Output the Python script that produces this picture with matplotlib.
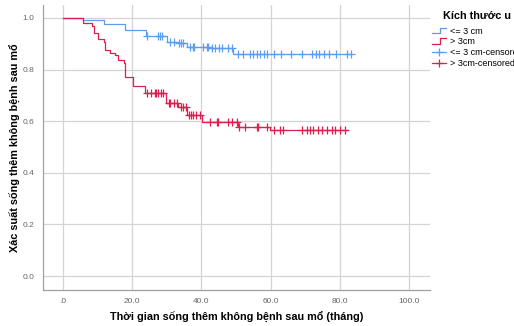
import numpy as np
import matplotlib
matplotlib.use("Agg")
import matplotlib.pyplot as plt
from matplotlib.lines import Line2D
from matplotlib.legend_handler import HandlerBase

plt.rcParams['font.family'] = ['Liberation Sans', 'DejaVu Sans']

# Kaplan-Meier: kich thuoc u <= 3 cm
blue_time = [0, 5.9, 11.8, 18.0, 24.0, 30.0, 33.2, 35.7, 42.5, 49.0, 83.4]
blue_surv = [1.0, 0.992, 0.975, 0.953, 0.930, 0.907, 0.901, 0.889, 0.883, 0.862, 0.862]
blue_cens = [24.2, 27.5, 28.0, 28.5, 31.0, 32.0, 33.5, 34.0, 34.8, 36.7, 37.5, 38.0,
             40.5, 41.5, 42.0, 43.0, 44.0, 45.0, 46.0, 47.7, 48.8, 50.5, 52.0, 54.0,
             55.0, 56.0, 57.0, 58.0, 59.0, 61.0, 63.0, 66.0, 69.0, 72.0, 73.0, 74.0,
             75.5, 77.0, 79.0, 82.0, 83.4]

# Kaplan-Meier: kich thuoc u > 3 cm
red_time = [0, 5.9, 8.3, 9.0, 10.2, 11.7, 12.0, 13.7, 15.1, 16.0, 17.5, 18.0, 20.1,
            23.7, 29.8, 33.2, 35.8, 40.1, 50.6, 59.8, 82.0]
red_surv = [1.0, 0.98, 0.967, 0.94, 0.92, 0.907, 0.876, 0.866, 0.857, 0.837, 0.825,
            0.773, 0.736, 0.71, 0.672, 0.656, 0.622, 0.596, 0.579, 0.566, 0.566]
red_cens = [24.2, 25.5, 26.5, 27.0, 27.5, 28.2, 29.0, 30.5, 31.0, 32.0, 33.0, 34.0,
            34.8, 35.5, 36.5, 37.0, 37.5, 38.5, 39.6, 42.5, 44.5, 44.8, 47.7, 48.8,
            50.3, 51.0, 52.6, 56.0, 56.4, 59.0, 61.0, 62.7, 63.6, 69.0, 70.5, 71.4,
            72.3, 73.7, 75.0, 76.3, 77.7, 78.6, 80.0, 81.5]

x_ticks = [0, 20, 40, 60, 80, 100]
x_labels = [".0", "20.0", "40.0", "60.0", "80.0", "100.0"]
y_ticks = [0.0, 0.2, 0.4, 0.6, 0.8, 1.0]
y_labels = ["0.0", "0.2", "0.4", "0.6", "0.8", "1.0"]

BLUE = "#5b9ef0"
RED = "#dc1f4e"


def surv_at(times, surv, t):
    idx = np.searchsorted(times, t, side="right") - 1
    return np.asarray(surv)[idx]


class StepHandler(HandlerBase):
    def create_artists(self, legend, orig_handle, xdescent, ydescent, width, height, fontsize, trans):
        xs = np.array([0, width * 0.55, width * 0.55, width]) - xdescent
        ys = np.array([0.05, 0.05, 0.95, 0.95]) * height - ydescent
        ln = Line2D(xs, ys, color=orig_handle.get_color(), lw=0.9)
        ln.set_transform(trans)
        return [ln]


fig = plt.figure(figsize=(5.14, 3.26), dpi=100)
ax = fig.add_axes([43 / 514, 1 - 290 / 326, 387 / 514, 285 / 326])

ax.step(blue_time, blue_surv, where="post", color=BLUE, lw=0.9)
ax.step(red_time, red_surv, where="post", color=RED, lw=0.9)
ax.plot(blue_cens, surv_at(blue_time, blue_surv, blue_cens), ls="none", marker="+",
        ms=5.5, mew=0.9, color=BLUE)
ax.plot(red_cens, surv_at(red_time, red_surv, red_cens), ls="none", marker="+",
        ms=5.5, mew=0.9, color=RED)

ax.set_xlim(-5.8, 106.1)
ax.set_ylim(-0.054, 1.05)
ax.set_xticks(x_ticks, x_labels)
ax.set_yticks(y_ticks, y_labels)
ax.tick_params(length=0, labelsize=6, labelcolor="#666666", pad=6)
ax.grid(True, color="#d4d4d4", lw=0.9)
ax.set_axisbelow(True)
for s in ["top", "right"]:
    ax.spines[s].set_visible(False)
for s in ["left", "bottom"]:
    ax.spines[s].set_color("#a0a0a0")
    ax.spines[s].set_linewidth(0.9)

ax.set_xlabel("Thời gian sống thêm không bệnh sau mổ (tháng)", fontsize=7.8,
              fontweight="bold", labelpad=5)
ax.set_ylabel("Xác suất sống thêm không bệnh sau mổ", fontsize=7.8,
              fontweight="bold", labelpad=1.5)

handles = [
    Line2D([], [], color=BLUE),
    Line2D([], [], color=RED),
    Line2D([], [], color=BLUE, lw=0.9, marker="+", ms=6, mew=0.9),
    Line2D([], [], color=RED, lw=0.9, marker="+", ms=6, mew=0.9),
]
labels = ["<= 3 cm", "> 3cm", "<= 3 cm-censored", "> 3cm-censored"]
leg = fig.legend(handles, labels, loc="upper left", bbox_to_anchor=(432 / 514, 1 - 11 / 326),
                 frameon=False, fontsize=6.5, title="Kích thước u",
                 title_fontproperties={"weight": "bold", "size": 7.8},
                 alignment="center", handlelength=1.6, handletextpad=0.35,
                 labelspacing=0.2, borderaxespad=0, borderpad=0,
                 handler_map={handles[0]: StepHandler(), handles[1]: StepHandler()})
leg._legend_box.sep = 4

fig.savefig("out.png", dpi=100)
